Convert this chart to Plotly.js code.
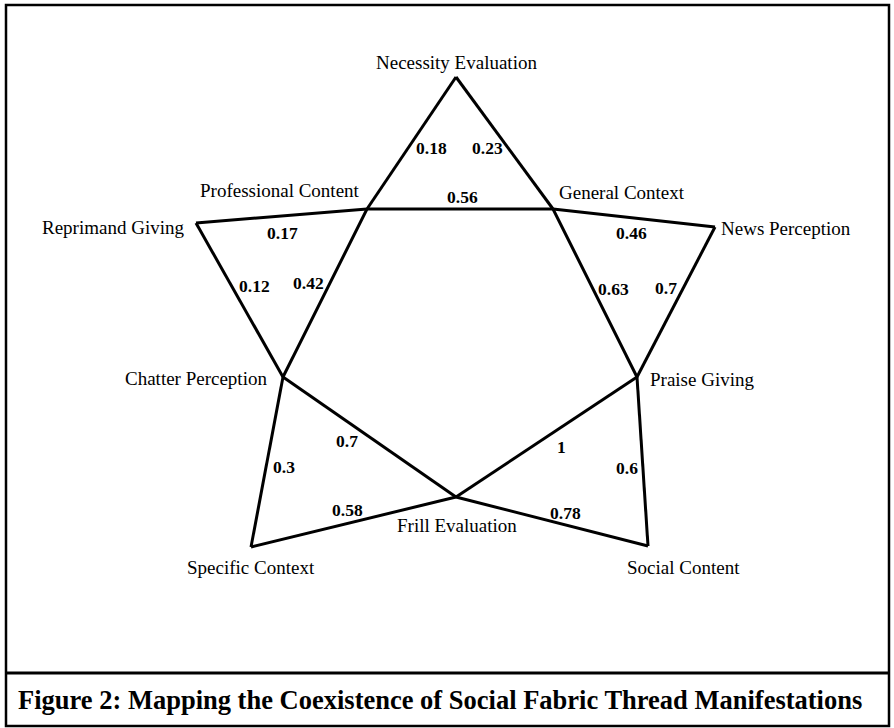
<!DOCTYPE html>
<html>
<head>
<meta charset="utf-8">
<script src="https://cdn.plot.ly/plotly-3.0.1.min.js"></script>
<style>html,body{margin:0;padding:0;background:#fff;}#chart{width:894px;height:728px;}</style>
</head>
<body>
<div id="chart"></div>
<script>
// Node names and their positions on the diagram (pixel-space coordinates of the map)
const nodeNames = ["Necessity Evaluation","Professional Content","General Context","Reprimand Giving","News Perception","Chatter Perception","Praise Giving","Frill Evaluation","Specific Context","Social Content"];
const nodeX = [456, 367, 553, 196, 715, 283, 637, 456, 251, 648];
const nodeY = [77, 209, 209, 223, 227, 377, 377, 497, 547, 546];

// Edges (index pairs) and their coexistence weights
const edgeFrom = [0, 0, 1, 3, 3, 1, 2, 2, 4, 5, 5, 8, 6, 6, 7];
const edgeTo   = [1, 2, 2, 1, 5, 5, 4, 6, 6, 7, 8, 7, 7, 9, 9];
const edgeWeights = [0.18, 0.23, 0.56, 0.17, 0.12, 0.42, 0.46, 0.63, 0.7, 0.7, 0.3, 0.58, 1, 0.6, 0.78];

const captionText = "Figure 2: Mapping the Coexistence of Social Fabric Thread Manifestations";

// ---- styling / placement (not data) ----
const nodeLabelPlacement = [
  {xa:"center", dx:0, dy:-15},
  {xa:"right", dx:-5, dy:-19},
  {xa:"left", dx:4, dy:-17},
  {xa:"right", dx:-10, dy:4},
  {xa:"left", dx:4, dy:1},
  {xa:"right", dx:-14, dy:1},
  {xa:"left", dx:11, dy:2},
  {xa:"center", dx:1, dy:28},
  {xa:"center", dx:0, dy:20},
  {xa:"center", dx:35, dy:21}
];
const edgeLabelShift = [
  [19.5,5],[-17.5,5],[2,-12],[0.5,17],[14.5,-14],[-17,-10],[-3,15],[18.5,-4],[-10.5,-14],[-22.5,4],[17,5],[-6.5,-12],[15,10],[-15.5,6],[13.5,-8.5]
];

const lx = [], ly = [];
for (let i = 0; i < edgeFrom.length; i++) {
  lx.push(nodeX[edgeFrom[i]], nodeX[edgeTo[i]], null);
  ly.push(nodeY[edgeFrom[i]], nodeY[edgeTo[i]], null);
}

const serif = "Liberation Serif, Times New Roman, serif";
const annotations = [];
nodeNames.forEach((n, i) => {
  const p = nodeLabelPlacement[i];
  annotations.push({x: nodeX[i], y: nodeY[i], xref:"x", yref:"y", text: n, showarrow:false,
    xanchor: p.xa, yanchor:"middle", xshift: p.dx, yshift: -p.dy,
    font:{family: serif, size:19, color:"#000"}});
});
edgeWeights.forEach((w, i) => {
  const a = edgeFrom[i], b = edgeTo[i];
  const s = edgeLabelShift[i];
  annotations.push({x: (nodeX[a]+nodeX[b])/2, y: (nodeY[a]+nodeY[b])/2, xref:"x", yref:"y",
    text: "<b>" + String(w) + "</b>", showarrow:false, xanchor:"center", yanchor:"middle",
    xshift: s[0], yshift: -s[1], font:{family: serif, size:17.5, color:"#000"}});
});
annotations.push({x: 16, y: 700, xref:"x", yref:"y", text: "<b>" + captionText + "</b>", showarrow:false,
  xanchor:"left", yanchor:"middle", font:{family: serif, size:26.5, color:"#000"}});

const trace = {x: lx, y: ly, mode:"lines", type:"scatter", hoverinfo:"skip",
  line:{color:"#000", width:3}};

const layout = {
  width: 894, height: 728,
  margin:{l:0,r:0,t:0,b:0,pad:0},
  paper_bgcolor:"#fff", plot_bgcolor:"#fff",
  showlegend:false,
  xaxis:{range:[0,894], visible:false, fixedrange:true},
  yaxis:{range:[728,0], visible:false, fixedrange:true},
  annotations: annotations,
  shapes:[
    {type:"rect", xref:"x", yref:"y", x0:6, x1:889, y0:5, y1:726, line:{color:"#000", width:2.5}},
    {type:"line", xref:"x", yref:"y", x0:6, x1:889, y0:673, y1:673, line:{color:"#000", width:3}}
  ]
};
Plotly.newPlot("chart", [trace], layout, {staticPlot:true, displayModeBar:false});
</script>
</body>
</html>
